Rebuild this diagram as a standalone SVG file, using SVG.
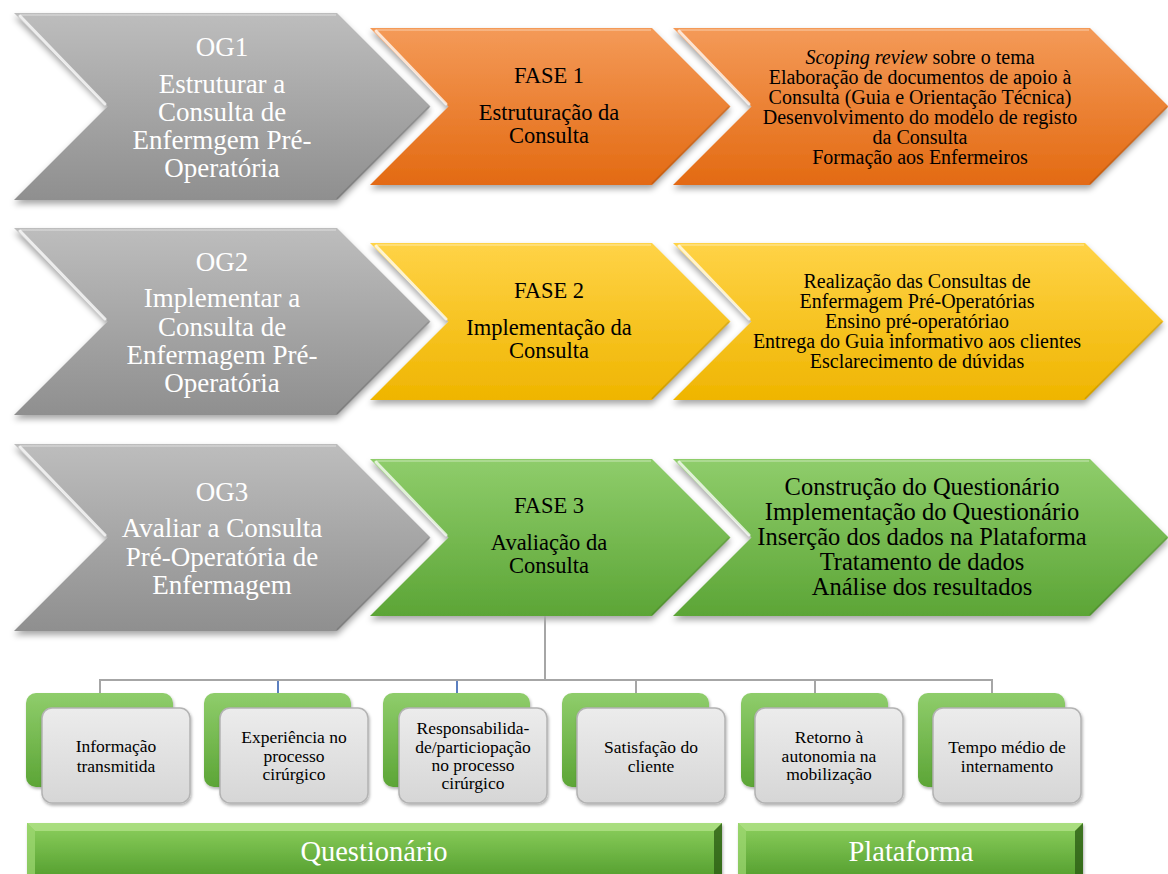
<svg xmlns="http://www.w3.org/2000/svg" width="1168" height="874" viewBox="0 0 1168 874">
<defs>
<linearGradient id="gGray" x1="0" y1="0" x2="0" y2="1"><stop offset="0" stop-color="#bdbdbd"/><stop offset="1" stop-color="#8f8f8f"/></linearGradient>
<linearGradient id="gOrange" x1="0" y1="0" x2="0" y2="1"><stop offset="0" stop-color="#f49a58"/><stop offset="1" stop-color="#e36a12"/></linearGradient>
<linearGradient id="gYellow" x1="0" y1="0" x2="0" y2="1"><stop offset="0" stop-color="#ffd347"/><stop offset="1" stop-color="#efb500"/></linearGradient>
<linearGradient id="gGreen" x1="0" y1="0" x2="0" y2="1"><stop offset="0" stop-color="#8fcd6b"/><stop offset="1" stop-color="#5ca536"/></linearGradient>
<linearGradient id="gBox" x1="0" y1="0" x2="0" y2="1"><stop offset="0" stop-color="#ececec"/><stop offset="1" stop-color="#d6d6d6"/></linearGradient>
<linearGradient id="gBar" x1="0" y1="0" x2="0" y2="1"><stop offset="0" stop-color="#8dd05e"/><stop offset="1" stop-color="#4f9a2a"/></linearGradient>
<filter id="sh" x="-5%" y="-10%" width="110%" height="130%"><feDropShadow dx="0" dy="4" stdDeviation="3" flood-color="#000" flood-opacity="0.35"/></filter>
<filter id="sh2" x="-10%" y="-10%" width="120%" height="130%"><feDropShadow dx="1" dy="2" stdDeviation="1.5" flood-color="#000" flood-opacity="0.3"/></filter>
</defs>
<style>
.t{font-family:"Liberation Serif","Times New Roman",serif;text-anchor:middle}
.og{font-size:27px;fill:#ffffff}
.fa{font-size:22.5px;fill:#000000}
.r1{font-size:20px;fill:#000000}
.r3{font-size:24.5px;fill:#000000}
.bx{font-size:17.5px;fill:#000000}
.bar{font-size:28.5px;fill:#ffffff}
.hl{fill:none;stroke:#ffffff;stroke-opacity:0.75;stroke-width:3;stroke-linecap:round}
.hl2{fill:none;stroke:#ffffff;stroke-opacity:0.35;stroke-width:1.5}
.dk{fill:none;stroke:#000000;stroke-opacity:0.12;stroke-width:2}
.con{fill:none;stroke:#a6a6a6;stroke-width:2}
.conb{fill:none;stroke:#5b7fc0;stroke-width:2}
.gb{fill:url(#gGreen)}
.wb{fill:url(#gBox);stroke:#b3b3b3;stroke-width:1.5}
</style>

<!-- Row 1 -->
<g id="og1">
<polygon points="14,13 337,13 430.5,106.5 337,200 14,200 107.5,106.5" fill="url(#gGray)" filter="url(#sh)"/>
<polyline class="hl" points="20,16 105,104"/><polyline class="hl2" points="20,15 336,15"/>
<polyline class="dk" points="337,199 429,107"/>
<text class="t og" x="222" y="56">OG1</text>
<text class="t og" x="222" y="93">Estruturar a</text>
<text class="t og" x="222" y="121">Consulta de</text>
<text class="t og" x="222" y="149">Enfermgem Pré-</text>
<text class="t og" x="222" y="177">Operatória</text>
</g>
<g id="fase1">
<polygon points="370,28 652,28 730.5,106.5 652,185 370,185 448.5,106.5" fill="url(#gOrange)" filter="url(#sh)"/>
<polyline class="hl" points="376,31 446,104"/><polyline class="hl2" points="376,30 651,30"/>
<polyline class="dk" points="652,184 729,107"/>
<text class="t fa" x="549" y="83">FASE 1</text>
<text class="t fa" x="549" y="120">Estruturação da</text>
<text class="t fa" x="549" y="143">Consulta</text>
</g>
<g id="acoes1">
<polygon points="673,28 1090,28 1168.5,106.5 1090,185 673,185 751.5,106.5" fill="url(#gOrange)" filter="url(#sh)"/>
<polyline class="hl" points="679,31 749,104"/><polyline class="hl2" points="679,30 1089,30"/>
<polyline class="dk" points="1090,184 1167,107"/>
<text class="t r1" x="920" y="64"><tspan font-style="italic">Scoping review</tspan> sobre o tema</text>
<text class="t r1" x="920" y="84">Elaboração de documentos de apoio à</text>
<text class="t r1" x="920" y="104">Consulta (Guia e Orientação Técnica)</text>
<text class="t r1" x="920" y="124">Desenvolvimento do modelo de registo</text>
<text class="t r1" x="920" y="144">da Consulta</text>
<text class="t r1" x="920" y="164">Formação aos Enfermeiros</text>
</g>

<!-- Row 2 -->
<g id="og2">
<polygon points="14,228 337,228 430.5,321.5 337,415 14,415 107.5,321.5" fill="url(#gGray)" filter="url(#sh)"/>
<polyline class="hl" points="20,231 105,319"/><polyline class="hl2" points="20,230 336,230"/>
<polyline class="dk" points="337,414 429,322"/>
<text class="t og" x="222" y="271">OG2</text>
<text class="t og" x="222" y="307">Implementar a</text>
<text class="t og" x="222" y="336">Consulta de</text>
<text class="t og" x="222" y="364">Enfermagem Pré-</text>
<text class="t og" x="222" y="392">Operatória</text>
</g>
<g id="fase2">
<polygon points="370,243 652,243 730.5,321.5 652,400 370,400 448.5,321.5" fill="url(#gYellow)" filter="url(#sh)"/>
<polyline class="hl" points="376,246 446,319"/><polyline class="hl2" points="376,245 651,245"/>
<polyline class="dk" points="652,399 729,322"/>
<text class="t fa" x="549" y="298">FASE 2</text>
<text class="t fa" x="549" y="335">Implementação da</text>
<text class="t fa" x="549" y="358">Consulta</text>
</g>
<g id="acoes2">
<polygon points="673,243 1085,243 1163.5,321.5 1085,400 673,400 751.5,321.5" fill="url(#gYellow)" filter="url(#sh)"/>
<polyline class="hl" points="679,246 749,319"/><polyline class="hl2" points="679,245 1084,245"/>
<polyline class="dk" points="1085,399 1162,322"/>
<text class="t r1" x="917" y="288">Realização das Consultas de</text>
<text class="t r1" x="917" y="308">Enfermagem Pré-Operatórias</text>
<text class="t r1" x="917" y="328">Ensino pré-operatóriao</text>
<text class="t r1" x="917" y="348">Entrega do Guia informativo aos clientes</text>
<text class="t r1" x="917" y="368">Esclarecimento de dúvidas</text>
</g>

<!-- Row 3 -->
<g id="og3">
<polygon points="14,444 337,444 430.5,537.5 337,631 14,631 107.5,537.5" fill="url(#gGray)" filter="url(#sh)"/>
<polyline class="hl" points="20,447 105,535"/><polyline class="hl2" points="20,446 336,446"/>
<polyline class="dk" points="337,630 429,538"/>
<text class="t og" x="222" y="501">OG3</text>
<text class="t og" x="222" y="537">Avaliar a Consulta</text>
<text class="t og" x="222" y="566">Pré-Operatória de</text>
<text class="t og" x="222" y="594">Enfermagem</text>
</g>
<g id="fase3">
<polygon points="370,459 652,459 730.5,537.5 652,616 370,616 448.5,537.5" fill="url(#gGreen)" filter="url(#sh)"/>
<polyline class="hl" points="376,462 446,535"/><polyline class="hl2" points="376,461 651,461"/>
<polyline class="dk" points="652,615 729,538"/>
<text class="t fa" x="549" y="513">FASE 3</text>
<text class="t fa" x="549" y="550">Avaliação da</text>
<text class="t fa" x="549" y="573">Consulta</text>
</g>
<g id="acoes3">
<polygon points="673,459 1090,459 1168.5,537.5 1090,616 673,616 751.5,537.5" fill="url(#gGreen)" filter="url(#sh)"/>
<polyline class="hl" points="679,462 749,535"/><polyline class="hl2" points="679,461 1089,461"/>
<polyline class="dk" points="1090,615 1167,538"/>
<text class="t r3" x="922" y="495">Construção do Questionário</text>
<text class="t r3" x="922" y="520">Implementação do Questionário</text>
<text class="t r3" x="922" y="545">Inserção dos dados na Plataforma</text>
<text class="t r3" x="922" y="570">Tratamento de dados</text>
<text class="t r3" x="922" y="595">Análise dos resultados</text>
</g>

<!-- Connectors -->
<g id="connectors">
<polyline class="con" points="545,616 545,680"/>
<polyline class="con" points="100,693 100,680 992,680 992,693"/>
<polyline class="conb" points="278,681 278,693"/>
<polyline class="conb" points="457,681 457,693"/>
<polyline class="con" points="636,680 636,693"/>
<polyline class="con" points="815,680 815,693"/>
</g>

<!-- Bottom boxes -->
<g id="box1">
<rect class="gb" x="26" y="693" width="147" height="94" rx="10" filter="url(#sh2)"/>
<rect class="wb" x="42" y="708" width="148" height="95" rx="10" filter="url(#sh2)"/>
<text class="t bx" x="116" y="752">Informação</text>
<text class="t bx" x="116" y="772">transmitida</text>
</g>
<g id="box2">
<rect class="gb" x="204" y="693" width="147" height="94" rx="10" filter="url(#sh2)"/>
<rect class="wb" x="220" y="708" width="148" height="95" rx="10" filter="url(#sh2)"/>
<text class="t bx" x="294" y="743">Experiência no</text>
<text class="t bx" x="294" y="761.5">processo</text>
<text class="t bx" x="294" y="780">cirúrgico</text>
</g>
<g id="box3">
<rect class="gb" x="383" y="693" width="147" height="94" rx="10" filter="url(#sh2)"/>
<rect class="wb" x="399" y="708" width="148" height="95" rx="10" filter="url(#sh2)"/>
<text class="t bx" x="473" y="734">Responsabilida-</text>
<text class="t bx" x="473" y="752.5">de/particiopação</text>
<text class="t bx" x="473" y="771">no processo</text>
<text class="t bx" x="473" y="789">cirúrgico</text>
</g>
<g id="box4">
<rect class="gb" x="562" y="693" width="147" height="94" rx="10" filter="url(#sh2)"/>
<rect class="wb" x="577" y="708" width="148" height="95" rx="10" filter="url(#sh2)"/>
<text class="t bx" x="651" y="753">Satisfação do</text>
<text class="t bx" x="651" y="772">cliente</text>
</g>
<g id="box5">
<rect class="gb" x="741" y="693" width="147" height="94" rx="10" filter="url(#sh2)"/>
<rect class="wb" x="755" y="708" width="148" height="95" rx="10" filter="url(#sh2)"/>
<text class="t bx" x="829" y="743">Retorno à</text>
<text class="t bx" x="829" y="761.5">autonomia na</text>
<text class="t bx" x="829" y="780">mobilização</text>
</g>
<g id="box6">
<rect class="gb" x="918" y="693" width="147" height="94" rx="10" filter="url(#sh2)"/>
<rect class="wb" x="933" y="708" width="148" height="95" rx="10" filter="url(#sh2)"/>
<text class="t bx" x="1007" y="753">Tempo médio de</text>
<text class="t bx" x="1007" y="772">internamento</text>
</g>

<!-- Bars -->
<g id="questionario">
<rect x="27" y="823" width="695" height="60" fill="url(#gBar)" filter="url(#sh2)"/>
<polygon points="27,823 722,823 714,831 35,831" fill="#b6e48f" fill-opacity="0.7"/>
<polygon points="27,823 35,831 35,883 27,883" fill="#9fd874" fill-opacity="0.7"/>
<polygon points="722,823 714,831 714,883 722,883" fill="#2c5e14" fill-opacity="0.8"/>
<text class="t bar" x="374" y="861">Questionário</text>
</g>
<g id="plataforma">
<rect x="738" y="823" width="345" height="60" fill="url(#gBar)" filter="url(#sh2)"/>
<polygon points="738,823 1083,823 1075,831 746,831" fill="#b6e48f" fill-opacity="0.7"/>
<polygon points="738,823 746,831 746,883 738,883" fill="#9fd874" fill-opacity="0.7"/>
<polygon points="1083,823 1075,831 1075,883 1083,883" fill="#2c5e14" fill-opacity="0.8"/>
<text class="t bar" x="911" y="861">Plataforma</text>
</g>
</svg>
